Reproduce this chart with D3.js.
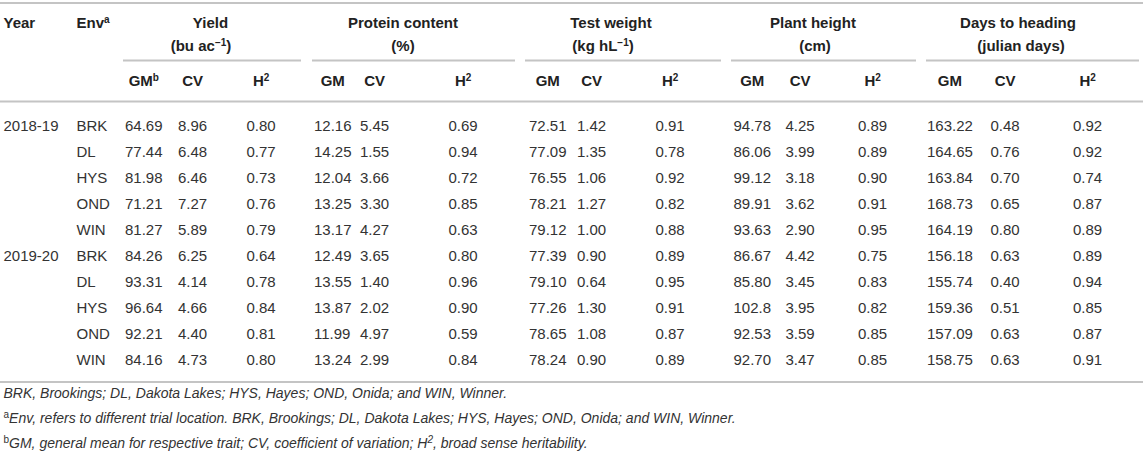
<!DOCTYPE html>
<html>
<head>
<meta charset="utf-8">
<script src="https://cdn.jsdelivr.net/npm/d3@7"></script>
<style>
  html, body { margin: 0; padding: 0; background: #fff; }
  svg { display: block; }
  text { font-family: "Liberation Sans", Arial, Helvetica, sans-serif; fill: #333; }
  .head { font-weight: bold; fill: #222; }
  .note { font-style: italic; }
  .rule { stroke: #c4c4c4; stroke-width: 1.8; }
</style>
</head>
<body>
<svg id="table"></svg>
<script>
"use strict";

// table content
var years = ["2018-19", "2019-20"];
var envs = ["BRK", "DL", "HYS", "OND", "WIN"];
var traits = ["Yield", "Protein content", "Test weight", "Plant height", "Days to heading"];
// odd parts are superscripts
var units = [["(bu ac", "\u22121", ")"], ["(%)"], ["(kg hL", "\u22121", ")"], ["(cm)"], ["(julian days)"]];
var stats = ["GM", "CV", "H"];

var yieldGM = ["64.69", "77.44", "81.98", "71.21", "81.27", "84.26", "93.31", "96.64", "92.21", "84.16"];
var yieldCV = ["8.96", "6.48", "6.46", "7.27", "5.89", "6.25", "4.14", "4.66", "4.40", "4.73"];
var yieldH2 = ["0.80", "0.77", "0.73", "0.76", "0.79", "0.64", "0.78", "0.84", "0.81", "0.80"];
var proteinGM = ["12.16", "14.25", "12.04", "13.25", "13.17", "12.49", "13.55", "13.87", "11.99", "13.24"];
var proteinCV = ["5.45", "1.55", "3.66", "3.30", "4.27", "3.65", "1.40", "2.02", "4.97", "2.99"];
var proteinH2 = ["0.69", "0.94", "0.72", "0.85", "0.63", "0.80", "0.96", "0.90", "0.59", "0.84"];
var testGM = ["72.51", "77.09", "76.55", "78.21", "79.12", "77.39", "79.10", "77.26", "78.65", "78.24"];
var testCV = ["1.42", "1.35", "1.06", "1.27", "1.00", "0.90", "0.64", "1.30", "1.08", "0.90"];
var testH2 = ["0.91", "0.78", "0.92", "0.82", "0.88", "0.89", "0.95", "0.91", "0.87", "0.89"];
var heightGM = ["94.78", "86.06", "99.12", "89.91", "93.63", "86.67", "85.80", "102.8", "92.53", "92.70"];
var heightCV = ["4.25", "3.99", "3.18", "3.62", "2.90", "4.42", "3.45", "3.95", "3.59", "3.47"];
var heightH2 = ["0.89", "0.89", "0.90", "0.91", "0.95", "0.75", "0.83", "0.82", "0.85", "0.85"];
var headingGM = ["163.22", "164.65", "163.84", "168.73", "164.19", "156.18", "155.74", "159.36", "157.09", "158.75"];
var headingCV = ["0.48", "0.76", "0.70", "0.65", "0.80", "0.63", "0.40", "0.51", "0.63", "0.63"];
var headingH2 = ["0.92", "0.92", "0.74", "0.87", "0.89", "0.89", "0.94", "0.85", "0.87", "0.91"];

// footnotes: [text, "sup" | "supi" | null]
var notes = [
  [["BRK, Brookings; DL, Dakota Lakes; HYS, Hayes; OND, Onida; and WIN, Winner.", null]],
  [["a", "sup"], ["Env, refers to different trial location. BRK, Brookings; DL, Dakota Lakes; HYS, Hayes; OND, Onida; and WIN, Winner.", null]],
  [["b", "sup"], ["GM, general mean for respective trait; CV, coefficient of variation; H", null], ["2", "supi"], [", broad sense heritability.", null]]
];

var columns = [
  [yieldGM, yieldCV, yieldH2],
  [proteinGM, proteinCV, proteinH2],
  [testGM, testCV, testH2],
  [heightGM, heightCV, heightH2],
  [headingGM, headingCV, headingH2]
];

var width = 1143,
  height = 451,
  font_size = 15;

var svg = d3.select("#table")
  .attr("width", width)
  .attr("height", height);

// rows: one per year x env
var rows = d3.range(years.length * envs.length);
var y = d3.scalePoint()
  .domain(rows)
  .range([125.5, 359.5]);

// left edge of every value column
var col_keys = [];
traits.forEach(function (t, i) {
  stats.forEach(function (s) { col_keys.push(i + "_" + s); });
});
var x = d3.scaleOrdinal()
  .domain(["year", "env"].concat(col_keys))
  .range([3.5, 76.5,
    125, 178, 246.5,
    314, 360, 448.5,
    529, 577, 655.5,
    733.5, 785.5, 858,
    927, 990.5, 1073]);

// group header centres and underline spans
var group_center = d3.scaleOrdinal().domain(traits).range([210.5, 403, 611, 813, 1018]);
var unit_center = d3.scaleOrdinal().domain(traits).range([201, 403, 603, 815, 1021]);
var group_span = d3.scaleOrdinal().domain(traits)
  .range([[123, 301], [312, 515], [525, 721], [731, 916], [926, 1139]]);

var base = font_size * 0.35;

// add a label made of plain and superscript parts
function addParts(sel, parts, sup_size, shift) {
  parts.forEach(function (p, i) {
    if (!p) return;
    var sup = i % 2 === 1;
    sel.append("tspan")
      .attr("font-size", sup ? sup_size : null)
      .attr("dy", sup ? -shift : (i > 0 ? shift : 0))
      .text(p);
  });
}

// horizontal rules
var rules = [3, 101.5, 382];
svg.selectAll(".full")
  .data(rules)
  .enter()
  .append("line")
  .attr("class", "rule full")
  .attr("x1", 0)
  .attr("x2", width)
  .attr("y1", function (d) { return d; })
  .attr("y2", function (d) { return d; });

svg.selectAll(".span")
  .data(traits)
  .enter()
  .append("line")
  .attr("class", "rule span")
  .attr("x1", function (d) { return group_span(d)[0]; })
  .attr("x2", function (d) { return group_span(d)[1]; })
  .attr("y1", 60.5)
  .attr("y2", 60.5);

// first header row
var header = svg.append("g").attr("font-size", font_size);

header.append("text")
  .attr("class", "head")
  .attr("x", x("year"))
  .attr("y", 22.5 + base)
  .text("Year");

addParts(header.append("text")
  .attr("class", "head")
  .attr("x", x("env"))
  .attr("y", 22.5 + base), ["Env", "a"], 10, 5);

header.selectAll(".trait")
  .data(traits)
  .enter()
  .append("text")
  .attr("class", "head trait")
  .attr("text-anchor", "middle")
  .attr("x", function (d) { return group_center(d); })
  .attr("y", 22.5 + base)
  .text(function (d) { return d; });

header.selectAll(".unit")
  .data(traits)
  .enter()
  .append("text")
  .attr("class", "head unit")
  .attr("text-anchor", "middle")
  .attr("x", function (d) { return unit_center(d); })
  .attr("y", 45.5 + base)
  .each(function (d, i) {
    addParts(d3.select(this), units[i], 10, 5);
  });

// body cells
var body = svg.append("g").attr("font-size", font_size);

body.selectAll(".year")
  .data(years)
  .enter()
  .append("text")
  .attr("class", "year")
  .attr("x", x("year"))
  .attr("y", function (d, i) { return y(i * envs.length) + base; })
  .text(function (d) { return d; });

body.selectAll(".env")
  .data(rows)
  .enter()
  .append("text")
  .attr("class", "env")
  .attr("x", x("env"))
  .attr("y", function (d) { return y(d) + base; })
  .text(function (d) { return envs[d % envs.length]; });

columns.forEach(function (group, ti) {
  group.forEach(function (values, si) {
    var key = ti + "_" + stats[si];
    var cells = body.selectAll(".c" + key)
      .data(values)
      .enter()
      .append("text")
      .attr("class", "c" + key)
      .attr("x", x(key))
      .attr("y", function (d, i) { return y(i) + base; })
      .text(function (d) { return d; });

    // sub header centred over its value column
    var w = cells.node().getComputedTextLength();
    var sup = si === 2 ? "2" : (si === 0 && ti === 0 ? "b" : "");
    addParts(header.append("text")
      .attr("class", "head")
      .attr("text-anchor", "middle")
      .attr("x", x(key) + w / 2)
      .attr("y", 80.5 + base), [stats[si], sup], 10, 5);
  });
});

// footnotes
var foot = svg.append("g").attr("font-size", 14);

foot.selectAll(".note")
  .data(notes)
  .enter()
  .append("text")
  .attr("class", "note")
  .attr("x", 3.5)
  .attr("y", function (d, i) { return 398 + i * 24.8; })
  .each(function (d) {
    var t = d3.select(this),
      shift = 0;
    d.forEach(function (part) {
      var sup = part[1] !== null;
      var span = t.append("tspan")
        .attr("dy", (sup ? -5 : 0) - shift)
        .text(part[0]);
      shift = sup ? -5 : 0;
      if (sup) {
        span.attr("font-size", 10)
          .style("font-style", part[1] === "supi" ? "italic" : "normal");
      }
    });
  });
</script>
</body>
</html>
